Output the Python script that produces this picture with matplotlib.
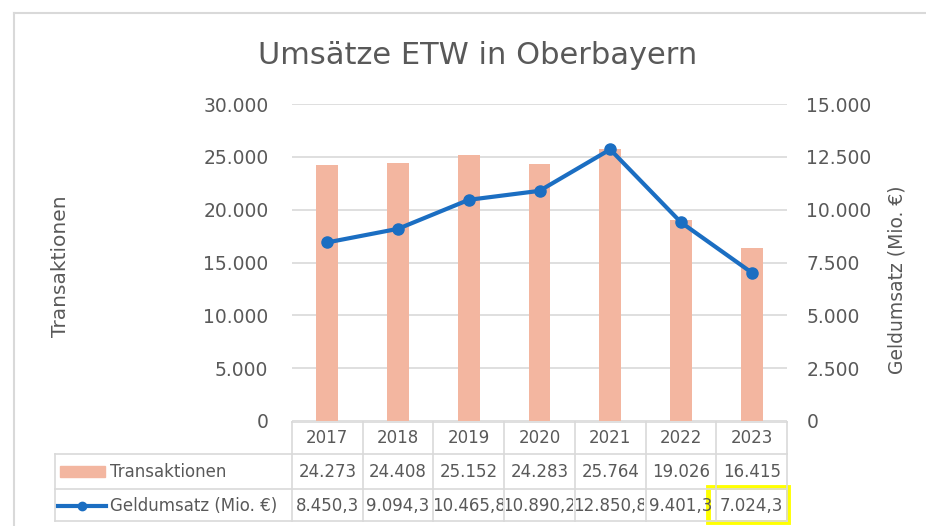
import matplotlib
matplotlib.use("Agg")
import matplotlib.pyplot as plt
from matplotlib.lines import Line2D
from matplotlib.patches import Rectangle
from matplotlib.transforms import blended_transform_factory, Bbox, TransformedBbox

YEARS = ["2017", "2018", "2019", "2020", "2021", "2022", "2023"]
TRANSAKTIONEN = [24273, 24408, 25152, 24283, 25764, 19026, 16415]
GELDUMSATZ = [8450.3, 9094.3, 10465.8, 10890.2, 12850.8, 9401.3, 7024.3]

LEFT_TICKS = [0, 5000, 10000, 15000, 20000, 25000, 30000]
RIGHT_TICKS = [0, 2500, 5000, 7500, 10000, 12500, 15000]

BAR_COLOR = "#F3B6A0"
LINE_COLOR = "#1B6EC2"
TEXT_COLOR = "#595959"
GRID_COLOR = "#D9D9D9"

W, H = 926, 526


def de_int(v):
    return f"{v:,.0f}".replace(",", ".")


def de_dec(v):
    return f"{v:,.1f}".replace(",", "X").replace(".", ",").replace("X", ".")


def fx(px):
    return px / W


def fy(py):
    return 1 - py / H


fig = plt.figure(figsize=(W / 100, H / 100), dpi=100)
fig.patch.set_facecolor("white")

ax = fig.add_axes([fx(292), fy(421), fx(787) - fx(292), fy(104) - fy(421)])
ax2 = ax.twinx()

x = list(range(len(YEARS)))
ax.bar(x, TRANSAKTIONEN, width=0.31, color=BAR_COLOR, zorder=2)
ax2.plot(x, GELDUMSATZ, color=LINE_COLOR, lw=3, marker="o", markersize=8, zorder=3)

ax.set_xlim(-0.5, len(YEARS) - 0.5)
ax.set_ylim(0, 30000)
ax2.set_ylim(0, 15000)
ax.set_yticks(LEFT_TICKS)
ax.set_yticklabels([de_int(v) for v in LEFT_TICKS])
ax2.set_yticks(RIGHT_TICKS)
ax2.set_yticklabels([de_int(v) for v in RIGHT_TICKS])
ax.set_xticks([])
ax.yaxis.grid(True, color=GRID_COLOR, lw=1.2, zorder=0)
ax.set_axisbelow(True)
for a in (ax, ax2):
    for s in a.spines.values():
        s.set_visible(False)
    a.tick_params(axis="y", length=0, labelsize=13.5, labelcolor=TEXT_COLOR)
ax.tick_params(axis="y", pad=17)
ax2.tick_params(axis="y", pad=14)

fig.text(fx(60), fy(266), "Transaktionen", rotation=90, ha="center", va="center",
         fontsize=14.5, color=TEXT_COLOR)
fig.text(fx(897), fy(280), "Geldumsatz (Mio. €)", rotation=90, ha="center", va="center",
         fontsize=13.5, color=TEXT_COLOR)
fig.text(fx(478), fy(56), "Umsätze ETW in Oberbayern", ha="center", va="center",
         fontsize=22, color=TEXT_COLOR)

# data table below the plot
tr = blended_transform_factory(ax.transData, fig.transFigure)
n = len(YEARS)
lkw = dict(color=GRID_COLOR, lw=1.2, transform=fig.transFigure)
fig.add_artist(Line2D([fx(292), fx(787)], [fy(422), fy(422)], **lkw))
for yy in (454, 489, 521):
    fig.add_artist(Line2D([fx(55), fx(787)], [fy(yy), fy(yy)], **lkw))
fig.add_artist(Line2D([fx(55), fx(55)], [fy(454), fy(521)], **lkw))
for k in range(n + 1):
    fig.add_artist(Line2D([k - 0.5, k - 0.5], [fy(422), fy(521)], color=GRID_COLOR,
                          lw=1.2, transform=tr))

for i in range(n):
    cell = TransformedBbox(Bbox([[i - 0.48, fy(521)], [i + 0.48, fy(422)]]), tr)
    fig.text(i, fy(438), YEARS[i], transform=tr, ha="center", va="center",
             fontsize=12, color=TEXT_COLOR)
    fig.text(i, fy(472), de_int(TRANSAKTIONEN[i]), transform=tr, ha="center",
             va="center", fontsize=12, color=TEXT_COLOR)
    t = fig.text(i, fy(506), de_dec(GELDUMSATZ[i]), transform=tr, ha="center",
                 va="center", fontsize=12, color=TEXT_COLOR)
    t.set_clip_box(cell)
    t.set_clip_on(True)

# legend keys in table
fig.add_artist(Rectangle((fx(60), fy(477)), fx(45), fy(466) - fy(477),
                         transform=fig.transFigure, color=BAR_COLOR))
fig.text(fx(110), fy(472), "Transaktionen", ha="left", va="center", fontsize=12,
         color=TEXT_COLOR)
fig.add_artist(Line2D([fx(58), fx(106)], [fy(506), fy(506)], color=LINE_COLOR, lw=3,
                      transform=fig.transFigure))
fig.add_artist(Line2D([fx(82)], [fy(506)], color=LINE_COLOR, marker="o", markersize=6,
                      transform=fig.transFigure))
fig.text(fx(110), fy(506), "Geldumsatz (Mio. €)", ha="left", va="center", fontsize=12,
         color=TEXT_COLOR)

# highlight box
fig.add_artist(Rectangle((fx(708), fy(522)), fx(80), fy(487) - fy(522),
                         transform=fig.transFigure, fill=False, ec="#FFFF00", lw=3.5))

# chart frame
fig.add_artist(Line2D([fx(14), fx(14)], [fy(13), 0], color=GRID_COLOR, lw=1.5,
                      transform=fig.transFigure))
fig.add_artist(Line2D([fx(14), 1], [fy(13), fy(13)], color=GRID_COLOR, lw=1.5,
                      transform=fig.transFigure))

fig.savefig("out.png", dpi=100)
